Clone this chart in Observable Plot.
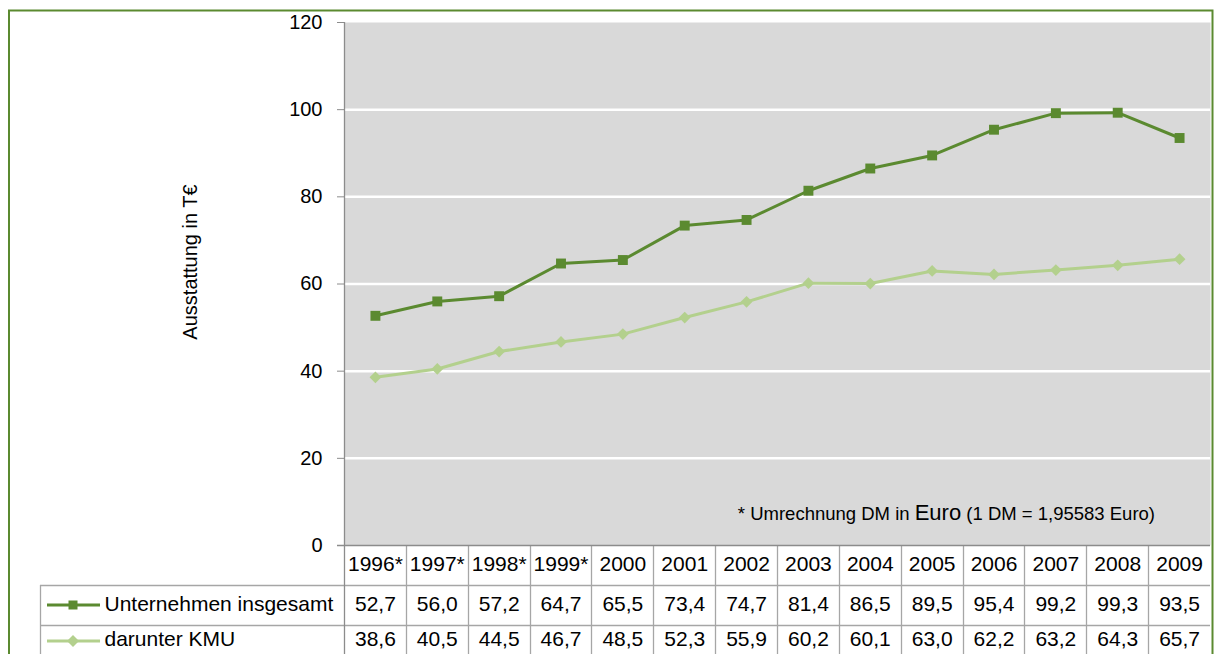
<!DOCTYPE html>
<html>
<head>
<meta charset="utf-8">
<script src="https://cdn.jsdelivr.net/npm/d3@7"></script>
<script src="https://cdn.jsdelivr.net/npm/@observablehq/plot@0.6"></script>
<style>
  html, body { margin: 0; padding: 0; background: #fff; overflow: hidden; }
  #chart svg { display: block; max-width: none !important; }
</style>
</head>
<body>
<div id="chart"></div>
<script>
const years = ["1996*", "1997*", "1998*", "1999*", "2000", "2001", "2002", "2003", "2004", "2005", "2006", "2007", "2008", "2009"];
const total = [52.7, 56.0, 57.2, 64.7, 65.5, 73.4, 74.7, 81.4, 86.5, 89.5, 95.4, 99.2, 99.3, 93.5];
const kmu = [38.6, 40.5, 44.5, 46.7, 48.5, 52.3, 55.9, 60.2, 60.1, 63.0, 62.2, 63.2, 64.3, 65.7];
const yTicks = [0, 20, 40, 60, 80, 100, 120];
const seriesNames = ["Unternehmen insgesamt", "darunter KMU"];
const yLabel = "Ausstattung in T€";
const footnoteParts = ["* Umrechnung DM in ", "Euro", " (1 DM = 1,95583 Euro)"];

const darkGreen = "#5b8a30";
const lightGreen = "#b3d08d";
const gridGrey = "#a6a6a6";
const font = "'Liberation Sans', Arial, sans-serif";

const data = years.map((year, i) => ({year, total: total[i], kmu: kmu[i]}));
const fmt = v => d3.format(".1f")(v).replace(".", ",");

function decorations(index, scales, values, dim) {
  const {width, height, marginLeft: ml, marginRight: mr, marginTop: mt} = dim;
  const x = scales.x;
  const y0 = scales.y(0);
  const right = width - mr;
  const rowH = 40;
  const legendLeft = 40;
  const g = d3.create("svg:g");
  // table horizontal lines
  [1, 2].forEach(r => {
    g.append("line").attr("x1", legendLeft).attr("x2", right)
      .attr("y1", y0 + r * rowH + 0.5).attr("y2", y0 + r * rowH + 0.5)
      .attr("stroke", gridGrey).attr("stroke-width", 1.3);
  });
  // table vertical lines
  years.slice(1).forEach(yr => {
    const xl = Math.round(x(yr)) + 0.5;
    g.append("line").attr("x1", xl).attr("x2", xl).attr("y1", y0).attr("y2", height)
      .attr("stroke", gridGrey).attr("stroke-width", 1.3);
  });
  g.append("line").attr("x1", legendLeft + 0.5).attr("x2", legendLeft + 0.5)
    .attr("y1", y0 + rowH).attr("y2", height).attr("stroke", gridGrey).attr("stroke-width", 1.3);
  // axis lines
  g.append("line").attr("x1", ml + 0.5).attr("x2", ml + 0.5).attr("y1", mt).attr("y2", height)
    .attr("stroke", "#8c8c8c").attr("stroke-width", 1.3);
  g.append("line").attr("x1", ml - 7).attr("x2", right).attr("y1", y0 + 0.5).attr("y2", y0 + 0.5)
    .attr("stroke", "#8c8c8c").attr("stroke-width", 1.5);
  // legend keys
  const keys = [
    {color: darkGreen, sym: "square"},
    {color: lightGreen, sym: "diamond"}
  ];
  keys.forEach((k, i) => {
    const cy = y0 + rowH * (i + 1) + rowH / 2 - (i === 1 ? 4 : 0);
    g.append("line").attr("x1", 47).attr("x2", 100).attr("y1", cy).attr("y2", cy)
      .attr("stroke", k.color).attr("stroke-width", 3);
    if (k.sym === "square") {
      g.append("rect").attr("x", 73 - 4.5).attr("y", cy - 4.5).attr("width", 9).attr("height", 9).attr("fill", k.color);
    } else {
      g.append("path").attr("d", `M73,${cy - 6}L79,${cy}L73,${cy + 6}L67,${cy}Z`).attr("fill", k.color);
    }
  });
  // footnote
  const t = g.append("text").attr("x", right - 55).attr("y", y0 - 25)
    .attr("text-anchor", "end").attr("font-size", 18.5).attr("fill", "#000").attr("font-family", font);
  t.append("tspan").text(footnoteParts[0]);
  t.append("tspan").attr("font-size", 22).text(footnoteParts[1]);
  t.append("tspan").text(footnoteParts[2]);
  // outer frame
  g.append("rect").attr("x", 9).attr("y", 10.5).attr("width", 1203.5).attr("height", 700)
    .attr("fill", "none").attr("stroke", darkGreen).attr("stroke-width", 2);
  return g.node();
}

const chart = Plot.plot({
  width: 1215,
  height: 654,
  marginLeft: 344,
  marginRight: 5,
  marginTop: 22,
  marginBottom: 109,
  style: {fontFamily: font, background: "white", overflow: "visible"},
  x: {type: "band", domain: years, padding: 0, round: false, axis: null},
  y: {domain: [0, 120], axis: null},
  marks: [
    Plot.frame({fill: "#d9d9d9", stroke: null}),
    Plot.gridY(yTicks.filter(v => v > 0 && v < 120), {stroke: "white", strokeOpacity: 1, strokeWidth: 2.5}),
    Plot.axisY(yTicks, {tickSize: 7, tickPadding: 15, fontSize: 20, stroke: "#8c8c8c", fill: "#000"}),
    Plot.text([yLabel], {frameAnchor: "left", textAnchor: "middle", rotate: -90, dx: -154, dy: -22, fontSize: 20, fill: "#000"}),
    decorations,
    Plot.line(data, {x: "year", y: "kmu", stroke: lightGreen, strokeWidth: 3}),
    Plot.dot(data, {x: "year", y: "kmu", symbol: "diamond2", r: 5.3, fill: lightGreen, stroke: null}),
    Plot.line(data, {x: "year", y: "total", stroke: darkGreen, strokeWidth: 3}),
    Plot.dot(data, {x: "year", y: "total", symbol: "square", r: 5.6, fill: darkGreen, stroke: null}),
    Plot.text(years, {x: d => d, frameAnchor: "bottom", dy: 25, fontSize: 21, fill: "#000"}),
    Plot.text(data, {x: "year", text: d => fmt(d.total), frameAnchor: "bottom", dy: 65, fontSize: 21, fill: "#000"}),
    Plot.text(data, {x: "year", text: d => fmt(d.kmu), frameAnchor: "bottom", dy: 100, fontSize: 21, fill: "#000"}),
    Plot.text([seriesNames[0]], {frameAnchor: "bottom-left", dx: -240, dy: 65, textAnchor: "start", fontSize: 21, fill: "#000"}),
    Plot.text([seriesNames[1]], {frameAnchor: "bottom-left", dx: -240, dy: 100, textAnchor: "start", fontSize: 21, fill: "#000"})
  ]
});
document.getElementById("chart").append(chart);
</script>
</body>
</html>
